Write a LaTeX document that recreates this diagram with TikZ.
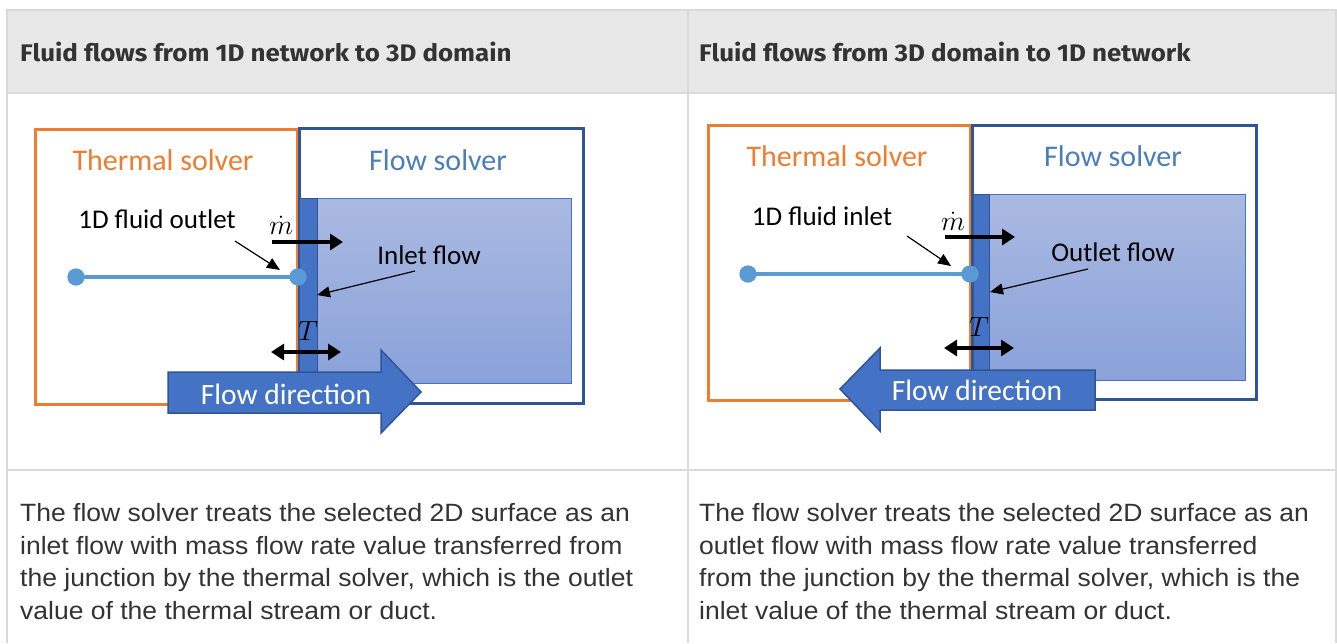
\documentclass[tikz,border=0pt]{standalone}
\usepackage{fix-cm}
\usepackage{fontspec}
\setmainfont{Carlito}
\newfontfamily\headfont{Fira Sans}[FakeStretch=1.08]
\newfontfamily\bodyfont{Liberation Sans}[FakeStretch=1.06]
\usetikzlibrary{arrows.meta}
\definecolor{orangeB}{HTML}{ED7D31}
\definecolor{navyB}{HTML}{2F5597}
\definecolor{midB}{HTML}{4472C4}
\definecolor{lineB}{HTML}{5B9BD5}
\definecolor{flowT}{HTML}{4A7EBB}
\definecolor{gradTop}{HTML}{AAB9E1}
\definecolor{gradBot}{HTML}{8AA2DA}
\definecolor{gridC}{HTML}{DADADA}
\definecolor{headFill}{HTML}{E8E8E9}
\definecolor{txtC}{HTML}{333333}
\tikzset{
  thermbox/.style={draw=orangeB, line width=3pt},
  flowbox/.style={draw=navyB, line width=3pt},
  innerbox/.style={top color=gradTop, bottom color=gradBot, draw=midB, line width=1pt},
  stripbox/.style={fill=midB, draw=navyB, line width=0.8pt},
  pipe/.style={draw=lineB, line width=4.5pt},
  pipedot/.style={circle, fill=lineB, inner sep=0pt, minimum size=17pt},
  bigarrow/.style={line width=3.5pt, -{Triangle[length=13pt,width=16pt]}},
  bigdarrow/.style={line width=3.5pt, {Triangle[length=13pt,width=16pt]}-{Triangle[length=13pt,width=16pt]}},
  pointer/.style={line width=1.2pt, -{Triangle[length=13pt,width=11pt]}},
  blockarrow/.style={fill=midB, draw=navyB, line width=1.5pt},
  titletxt/.style={font=\fontsize{30}{35}\selectfont, inner sep=0pt},
  labeltxt/.style={font=\fontsize{27}{32}\selectfont, text=black, inner sep=0pt},
  mathtxt/.style={font=\fontsize{28}{32}\selectfont, inner sep=0pt},
  dirtxt/.style={font=\fontsize{29.5}{34}\selectfont, text=white, inner sep=0pt},
  headtxt/.style={font=\headfont\bfseries\fontsize{24}{28}\selectfont, text=txtC, anchor=base west, inner sep=0pt},
  bodytxt/.style={font=\bodyfont\fontsize{25}{30}\selectfont, text=txtC, anchor=base west, inner sep=0pt},
  grid/.style={draw=gridC, line width=2pt}
}
\begin{document}
\begin{tikzpicture}[x=1pt,y=-1pt]
\path[use as bounding box, fill=white] (0,0) rectangle (1337,643);
% table
\fill[headFill] (7,10) rectangle (1337,93);
\draw[grid] (1337,10) -- (7,10) -- (7,643);
\draw[grid] (7,93) -- (1337,93);
\draw[grid] (7,470) -- (1337,470);
\draw[grid] (688,10) -- (688,643);
\draw[grid] (1336,10) -- (1336,643);
\node[headtxt] (h1) at (20,61) {Fluid flows from 1D network to 3D domain};
\node[headtxt] (h2) at (699,61) {Fluid flows from 3D domain to 1D network};
% body text
\node[bodytxt] (l1) at (20,521) {The flow solver treats the selected 2D surface as an};
\node[bodytxt] (l2) at (20,554) {inlet flow with mass flow rate value transferred from};
\node[bodytxt] (l3) at (20,586) {the junction by the thermal solver, which is the outlet};
\node[bodytxt] (l4) at (20,619) {value of the thermal stream or duct.};
\node[bodytxt] (r1) at (699,521) {The flow solver treats the selected 2D surface as an};
\node[bodytxt] (r2) at (699,554) {outlet flow with mass flow rate value transferred};
\node[bodytxt] (r3) at (699,586) {from the junction by the thermal solver, which is the};
\node[bodytxt] (r4) at (699,619) {inlet value of the thermal stream or duct.};

% ---------- left diagram ----------
\draw[thermbox] (35,129) rectangle (297,404);
\draw[flowbox] (299,128) rectangle (583,403);
\path[innerbox] (301,198) rectangle (571,383);
\path[stripbox] (299,198) rectangle (317,401);
\node[titletxt, text=orangeB] (lts) at (163,160) {Thermal solver};
\node[titletxt, text=flowT] (lfs) at (438,160) {Flow solver};
\node[pipedot] (lp1) at (76,277) {};
\node[pipedot] (lp2) at (298,277) {};
\draw[pipe] (lp1.center) -- (lp2.center);
\node[pipedot] at (lp1) {};
\node[pipedot] at (lp2) {};
\coordinate (lma) at (272,242);
\coordinate (lmb) at (343,242);
\draw[bigarrow] (lma) -- (lmb);
\coordinate (lta) at (271,352);
\coordinate (ltb) at (341,352);
\draw[bigdarrow] (lta) -- (ltb);
\node[mathtxt] (lm) at (281,225) {$\dot{m}$};
\node[mathtxt] (lT) at (308,331) {$T$};
\node[labeltxt] (lout) at (157,219) {1D fluid outlet};
\node[labeltxt] (lin) at (429,255) {Inlet flow};
\coordinate (lo1) at (235,241);
\coordinate (lo2) at (280,270);
\draw[pointer] (lo1) -- (lo2);
\coordinate (li1) at (415,271);
\coordinate (li2) at (317,295);
\draw[pointer] (li1) -- (li2);
\draw[blockarrow] (168,372) -- (381,372) -- (381,350) -- (421,392) -- (381,433) -- (381,413) -- (168,413) -- cycle;
\node[dirtxt] (ldir) at (286,394) {Flow direction};

% ---------- right diagram ----------
\draw[thermbox] (708,125) rectangle (970,400);
\draw[flowbox] (972,125) rectangle (1256,399);
\path[innerbox] (975,194) rectangle (1245,380);
\path[stripbox] (973,194) rectangle (989,397);
\node[titletxt, text=orangeB] (rts) at (837,156) {Thermal solver};
\node[titletxt, text=flowT] (rfs) at (1113,156) {Flow solver};
\node[pipedot] (rp1) at (748,274) {};
\node[pipedot] (rp2) at (970,274) {};
\draw[pipe] (rp1.center) -- (rp2.center);
\node[pipedot] at (rp1) {};
\node[pipedot] at (rp2) {};
\coordinate (rma) at (945,237);
\coordinate (rmb) at (1015,237);
\draw[bigarrow] (rma) -- (rmb);
\coordinate (rta) at (944,348);
\coordinate (rtb) at (1014,348);
\draw[bigdarrow] (rta) -- (rtb);
\node[mathtxt] (rm) at (953,221) {$\dot{m}$};
\node[mathtxt] (rT) at (979,327) {$T$};
\node[labeltxt] (rin) at (822,216) {1D fluid inlet};
\node[labeltxt] (rout) at (1113,252) {Outlet flow};
\coordinate (ri1) at (907,236);
\coordinate (ri2) at (951,266);
\draw[pointer] (ri1) -- (ri2);
\coordinate (ro1) at (1088,269);
\coordinate (ro2) at (990,292);
\draw[pointer] (ro1) -- (ro2);
\draw[blockarrow] (1095,370) -- (880,370) -- (880,348) -- (840,389) -- (880,431) -- (880,410) -- (1095,410) -- cycle;
\node[dirtxt] (rdir) at (977,390) {Flow direction};
\end{tikzpicture}
\end{document}
